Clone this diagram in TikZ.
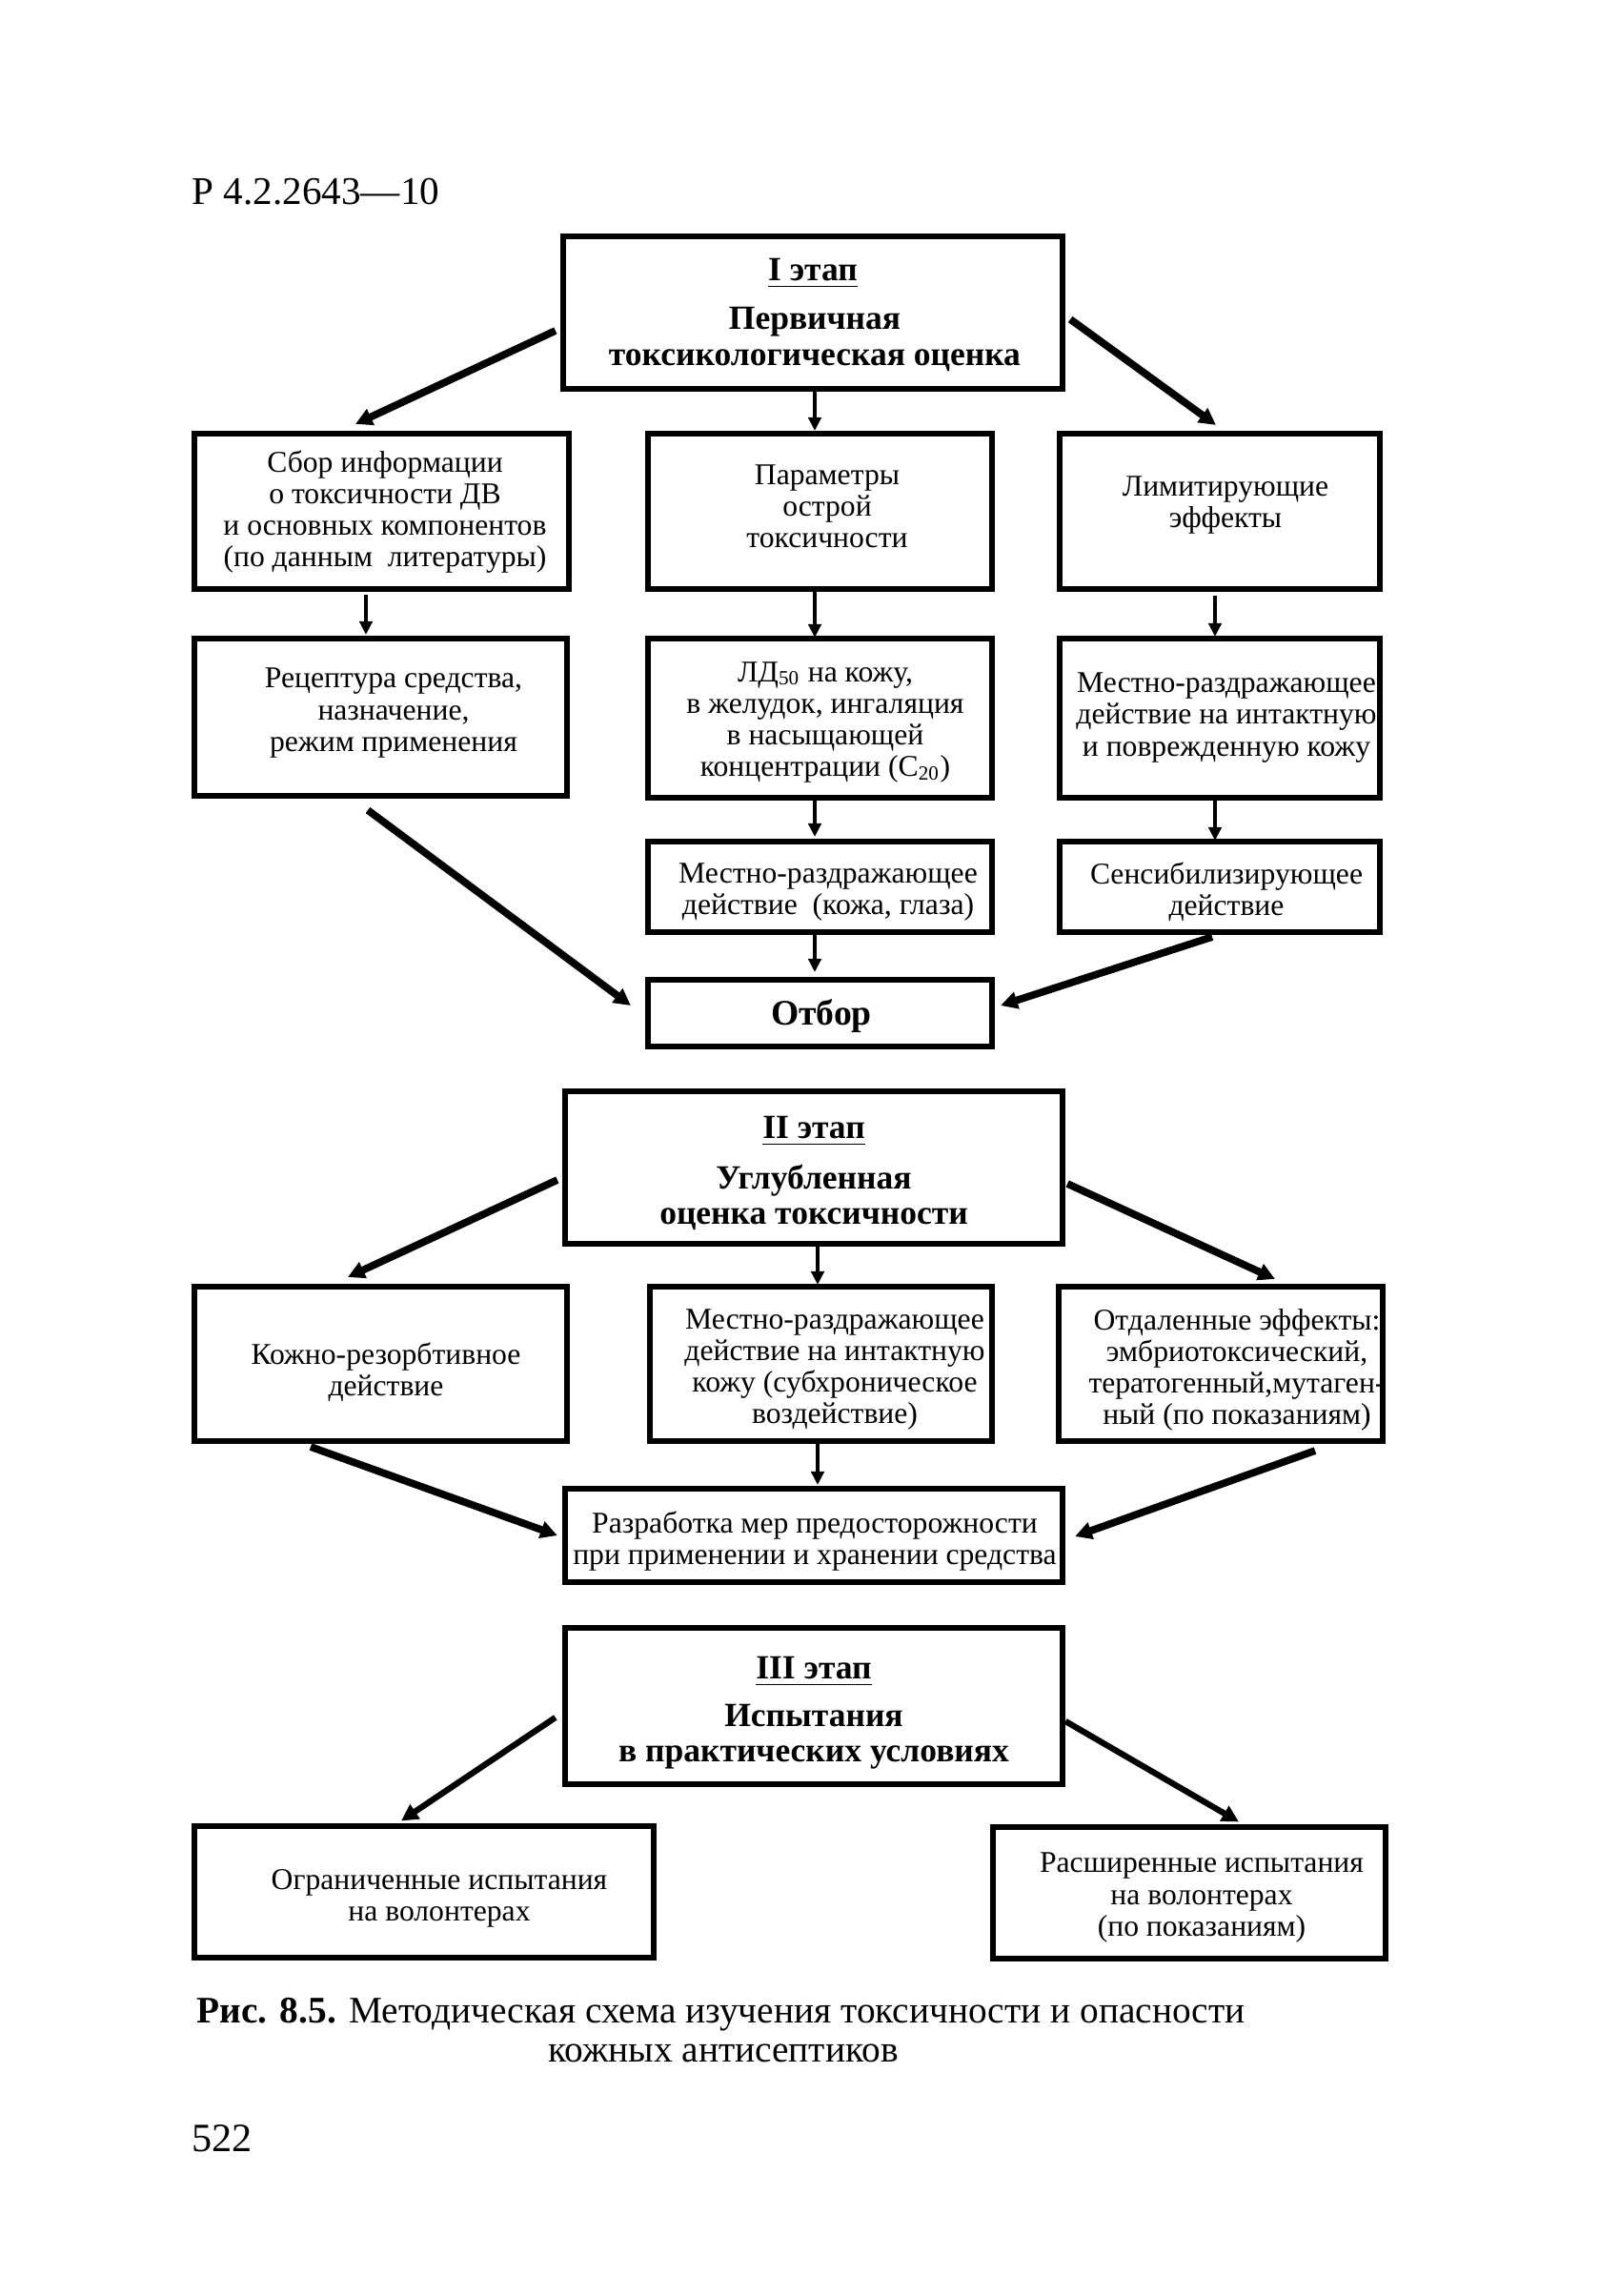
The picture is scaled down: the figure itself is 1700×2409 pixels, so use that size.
\documentclass[tikz,border=0pt]{standalone}
\usepackage{fontspec}
\setmainfont{Liberation Serif}
\usetikzlibrary{arrows.meta,calc}
\begin{document}
\begin{tikzpicture}[x=0.01cm,y=-0.01cm,
  box/.style={draw,line width=1.7pt,inner sep=0pt,outer sep=0pt},
  txt/.style={align=center,font=\fontsize{9}{9.4}\selectfont,inner sep=0pt},
  ttl/.style={align=center,font=\fontsize{10.1}{10.6}\selectfont\bfseries,inner sep=0pt},
  bigarrow/.style={line width=2.2pt,-{Triangle[length=5pt,width=5pt]}},
  smallarrow/.style={line width=1.1pt,-{Triangle[length=4pt,width=3.8pt]}},
]
\useasboundingbox (0,0) rectangle (1700,2409);

% header, page number, caption
\node[anchor=west,inner sep=0pt,font=\fontsize{11.7}{12}\selectfont] (hdr) at (201,201) {Р 4.2.2643—10};
\node[anchor=west,inner sep=0pt,font=\fontsize{12}{12}\selectfont] (pg) at (201,2244) {522};
\node[anchor=west,inner sep=0pt,font=\fontsize{11.2}{12}\selectfont] (cap1) at (206,2114) {\textbf{Рис. 8.5.} Методическая схема изучения токсичности и опасности};
\node[inner sep=0pt,font=\fontsize{11.2}{12}\selectfont] (cap2) at (759,2154) {кожных антисептиков};

% ---- Stage I ----
\node[box,minimum width=5.24cm,minimum height=1.60cm] (I) at (853,328) {};
\node[ttl] (tI1) at (853,287) {\underline{I этап}};
\node[ttl] (tI2) at (855,356) {Первичная\\токсикологическая оценка};

\node[box,minimum width=3.93cm,minimum height=1.63cm] (A1) at (400.5,536.5) {};
\node[box,minimum width=3.61cm,minimum height=1.63cm] (A2) at (860.5,536.5) {};
\node[box,minimum width=3.36cm,minimum height=1.63cm] (A3) at (1280,536.5) {};
\node[txt] (tA1) at (404,537) {Сбор информации\\о токсичности ДВ\\и основных компонентов\\(по данным~~литературы)};
\node[txt] (tA2) at (868,531) {Параметры\\острой\\токсичности};
\node[txt] (tA3) at (1286,530) {Лимитирующие\\эффекты};

\node[box,minimum width=3.91cm,minimum height=1.65cm] (B1) at (399.5,752.5) {};
\node[box,minimum width=3.61cm,minimum height=1.67cm] (B2) at (860.5,753.5) {};
\node[box,minimum width=3.36cm,minimum height=1.67cm] (B3) at (1280,753.5) {};
\node[txt] (tB1) at (413,748) {Рецептура средства,\\назначение,\\режим применения};
\node[txt] (tB2) at (866,758) {ЛД\textsubscript{50} на кожу,\\в желудок, ингаляция\\в насыщающей\\концентрации (С\textsubscript{20})};
\node[txt] (tB3) at (1287,753) {Местно-раздражающее\\действие на интактную\\и поврежденную кожу};

\node[box,minimum width=3.61cm,minimum height=0.95cm] (C2) at (860.5,930.5) {};
\node[box,minimum width=3.36cm,minimum height=0.95cm] (C3) at (1280,930.5) {};
\node[txt] (tC2) at (869,936) {Местно-раздражающее\\действие~~(кожа, глаза)};
\node[txt] (tC3) at (1287,936) {Сенсибилизирующее\\действие};

\node[box,minimum width=3.61cm,minimum height=0.70cm] (O) at (860.5,1063) {};
\node[ttl,font=\fontsize{10.7}{12}\selectfont\bfseries] (tO) at (862,1066) {Отбор};

\draw[bigarrow] ($(I.west)+(-8,19)$) -- ($(A1.north)+(-27.5,-10)$);
\draw[smallarrow] ($(I.south)+(2,2)$) -- ($(A2.north)+(-5.5,-3)$);
\draw[bigarrow] ($(I.east)+(8,7)$) -- ($(A3.north)+(-4,-9)$);
\draw[smallarrow] ($(A1.south)+(-16.5,6)$) -- ($(B1.north)+(-15.5,-4)$);
\draw[smallarrow] ($(A2.south)+(-5.5,3)$) -- ($(B2.north)+(-5.5,-1)$);
\draw[smallarrow] ($(A3.south)+(-5,7)$) -- ($(B3.north)+(-5,-2)$);
\draw[smallarrow] ($(B2.south)+(-5.5,3)$) -- ($(C2.north)+(-5.5,-5)$);
\draw[smallarrow] ($(B3.south)+(-5,3)$) -- ($(C3.north)+(-5,-1)$);
\draw[smallarrow] ($(C2.south)+(-5.5,3)$) -- ($(O.north)+(-5.5,-8)$);
\draw[bigarrow] ($(B1.south)+(-13.5,15)$) -- ($(O.west)+(-18,-8)$);
\draw[bigarrow] ($(C3.south)+(-8,5)$) -- ($(O.east)+(9,-8)$);

% ---- Stage II ----
\node[box,minimum width=5.22cm,minimum height=1.60cm] (II) at (854,1225) {};
\node[ttl] (tII1) at (854,1187) {\underline{II этап}};
\node[ttl] (tII2) at (854,1256) {Углубленная\\оценка токсичности};

\node[box,minimum width=3.91cm,minimum height=1.62cm] (D1) at (399.5,1431) {};
\node[box,minimum width=3.59cm,minimum height=1.62cm] (D2) at (861.5,1431) {};
\node[box,minimum width=3.40cm,minimum height=1.62cm] (D3) at (1281,1431) {};
\node[txt] (tD1) at (405,1440) {Кожно-резорбтивное\\действие};
\node[txt] (tD2) at (876,1437) {Местно-раздражающее\\действие на интактную\\кожу (субхроническое\\воздействие)};
\node[txt] (tD3) at (1298,1437) {Отдаленные эффекты:\\эмбриотоксический,\\тератогенный,мутаген-\\ный (по показаниям)};

\node[box,minimum width=5.22cm,minimum height=0.98cm] (E) at (854,1611) {};
\node[txt] (tE) at (855,1617) {Разработка мер предосторожности\\при применении и хранении средства};

\draw[bigarrow] ($(II.west)+(-8,13)$) -- ($(D1.north)+(-34.5,-10)$);
\draw[smallarrow] ($(II.south)+(4,1)$) -- ($(D2.north)+(-3.5,-2)$);
\draw[bigarrow] ($(II.east)+(5,17)$) -- ($(D3.north)+(57,-8)$);
\draw[bigarrow] ($(D1.south)+(-73.5,6)$) -- ($(E.west)+(-8,0)$);
\draw[smallarrow] ($(D2.south)+(-3.5,2)$) -- ($(E.north)+(4,-4)$);
\draw[bigarrow] ($(D3.south)+(99,10)$) -- ($(E.east)+(13,1)$);

% ---- Stage III ----
\node[box,minimum width=5.22cm,minimum height=1.64cm] (III) at (854,1790) {};
\node[ttl] (tIII1) at (854,1754) {\underline{III этап}};
\node[ttl] (tIII2) at (854,1822) {Испытания\\в практических условиях};

\node[box,minimum width=4.82cm,minimum height=1.37cm] (F1) at (445,1985) {};
\node[box,minimum width=4.12cm,minimum height=1.37cm] (F2) at (1248,1986) {};
\node[txt] (tF1) at (461,1992) {Ограниченные испытания\\на волонтерах};
\node[txt] (tF2) at (1261,1991) {Расширенные испытания\\на волонтерах\\(по показаниям)};

\draw[bigarrow,line width=1.8pt] ($(III.west)+(-10,12)$) -- ($(F1.north)+(-24,-6)$);
\draw[bigarrow,line width=1.8pt] ($(III.east)+(3,16)$) -- ($(F2.north)+(52,-6)$);
\end{tikzpicture}
\end{document}
